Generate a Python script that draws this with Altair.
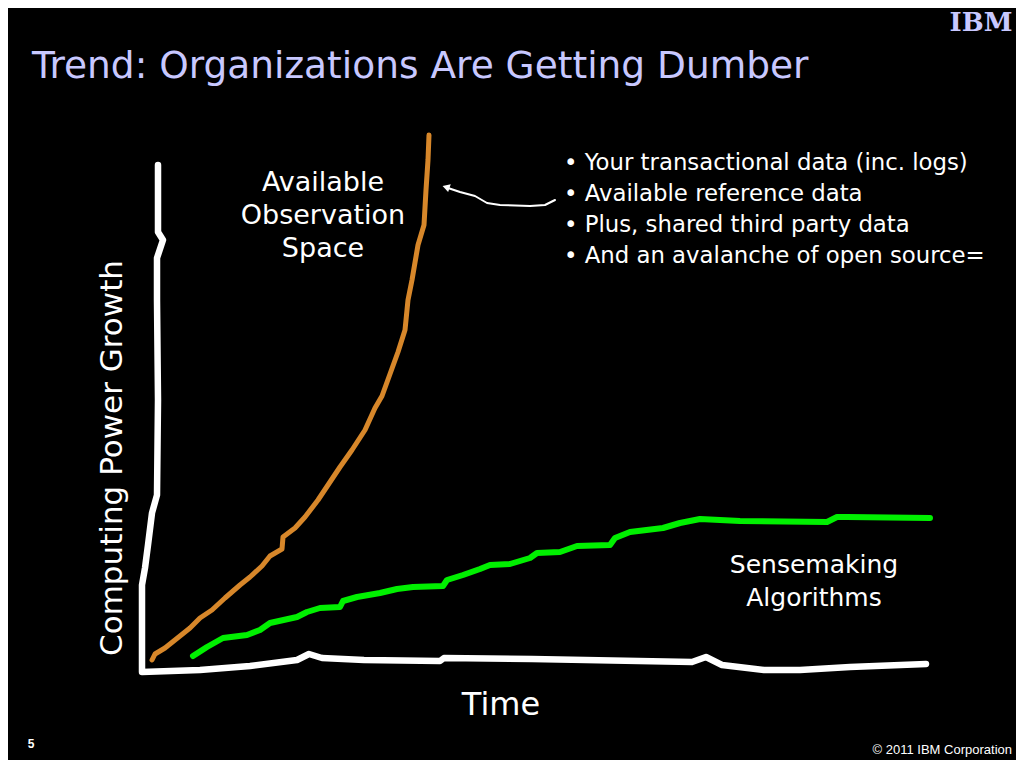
import altair as alt
import pandas as pd

# ---- data (slide units: x = time position, y = level measured from top) ----
axis_x = [158, 158, 163, 157, 157, 158, 157, 152, 148, 145, 142, 142, 200, 250, 297, 309, 322, 364, 440, 444, 532, 692, 706, 722, 764, 800, 850, 926]
axis_y = [165, 232, 240, 258, 300, 400, 495, 513, 545, 568, 585, 672, 670, 666, 660, 654, 658, 660, 661, 658, 659, 662, 657, 665, 670, 670, 667, 664]

obs_x = [152, 155, 165, 175, 190, 200, 212, 225, 240, 250, 262, 270, 282, 283, 295, 305, 318, 330, 340, 352, 365, 375, 382, 390, 398, 405, 408, 412, 418, 424, 426, 428, 429]
obs_y = [660, 654, 648, 640, 628, 618, 610, 598, 585, 577, 566, 556, 549, 537, 528, 517, 500, 482, 467, 450, 430, 408, 396, 374, 352, 330, 300, 280, 245, 225, 190, 160, 135]

alg_x = [193, 207, 223, 247, 260, 270, 297, 307, 320, 340, 343, 357, 380, 397, 413, 443, 447, 463, 480, 490, 510, 530, 537, 560, 577, 610, 615, 630, 663, 680, 700, 740, 827, 837, 847, 930]
alg_y = [656, 647, 638, 635, 630, 623, 617, 612, 608, 607, 601, 597, 593, 589, 587, 586, 580, 575, 569, 565, 564, 558, 553, 552, 546, 545, 538, 532, 528, 523, 519, 521, 522, 517, 517, 518]

arrow_x = [555, 545, 530, 500, 487, 475, 460, 448]
arrow_y = [200, 205, 206, 205, 203, 196, 192, 188]

title_text = "Trend: Organizations Are Getting Dumber"
bullets = ["• Your transactional data (inc. logs)", "• Available reference data",
           "• Plus, shared third party data", "• And an avalanche of open source="]
bullet_y = [163, 194, 225, 256]
obs_label = ["Available", "Observation", "Space"]
obs_label_y = [183, 216, 249]
alg_label = ["Sensemaking", "Algorithms"]
alg_label_y = [565, 598]

X = alt.X("x:Q", scale=alt.Scale(domain=[8, 1016], nice=False, zero=False), axis=None)
Y = alt.Y("y:Q", scale=alt.Scale(domain=[8, 760], nice=False, zero=False, reverse=True), axis=None)


def line_df(xs, ys):
    return pd.DataFrame({"x": xs, "y": ys, "i": list(range(len(xs)))})


def line_layer(xs, ys, color, width):
    return alt.Chart(line_df(xs, ys)).mark_line(
        color=color, strokeWidth=width, strokeJoin="round", strokeCap="round"
    ).encode(x=X, y=Y, order="i:Q")


axis_layer = line_layer(axis_x, axis_y, "white", 6.5)
obs_layer = line_layer(obs_x, obs_y, "#D7872A", 5)
alg_layer = line_layer(alg_x, alg_y, "#00F000", 6)
arrow_layer = line_layer(arrow_x, arrow_y, "white", 2)
arrow_head = alt.Chart(pd.DataFrame({"x": [446], "y": [187]})).mark_point(
    shape="triangle-left", filled=True, color="white", size=70, angle=18, opacity=1
).encode(x=X, y=Y)


def text_layer(df, **kw):
    return alt.Chart(df).mark_text(**kw).encode(x=X, y=Y, text="t:N")


title = text_layer(pd.DataFrame({"x": [32], "y": [67], "t": [title_text]}),
                   align="left", baseline="middle", font="DejaVu Sans", fontSize=37.5, color="#C8C8FF")
bullet_layer = text_layer(pd.DataFrame({"x": [564] * 4, "y": bullet_y, "t": bullets}),
                          align="left", baseline="middle", font="DejaVu Sans", fontSize=22.8, color="white")
obs_text = text_layer(pd.DataFrame({"x": [323] * 3, "y": obs_label_y, "t": obs_label}),
                      align="center", baseline="middle", font="DejaVu Sans", fontSize=27, color="white")
alg_text = text_layer(pd.DataFrame({"x": [814] * 2, "y": alg_label_y, "t": alg_label}),
                      align="center", baseline="middle", font="DejaVu Sans", fontSize=25, color="white")
time_text = text_layer(pd.DataFrame({"x": [501], "y": [705], "t": ["Time"]}),
                       align="center", baseline="middle", font="DejaVu Sans", fontSize=32, color="white")
yaxis_text = text_layer(pd.DataFrame({"x": [113], "y": [458], "t": ["Computing Power Growth"]}),
                        align="center", baseline="middle", font="DejaVu Sans", fontSize=31, color="white", angle=270)
page_num = text_layer(pd.DataFrame({"x": [31], "y": [744], "t": ["5"]}),
                      align="center", baseline="middle", font="Liberation Sans", fontSize=12, fontWeight="bold", color="white")
copyright_text = text_layer(pd.DataFrame({"x": [1012], "y": [750], "t": ["© 2011 IBM Corporation"]}),
                            align="right", baseline="middle", font="Liberation Sans", fontSize=13, color="white")
ibm = text_layer(pd.DataFrame({"x": [981], "y": [23], "t": ["IBM"]}),
                 align="center", baseline="middle", font="DejaVu Serif", fontSize=26, fontWeight="bold", color="#C8C8FF")

chart = alt.layer(
    axis_layer, obs_layer, alg_layer, arrow_layer, arrow_head,
    title, bullet_layer, obs_text, alg_text, time_text, yaxis_text, page_num, copyright_text, ibm
).properties(
    width=1008, height=752, background="black", padding=0, autosize="none"
).configure_view(stroke=None)

chart.save("out.html", embed_options={"renderer": "svg", "actions": False})
